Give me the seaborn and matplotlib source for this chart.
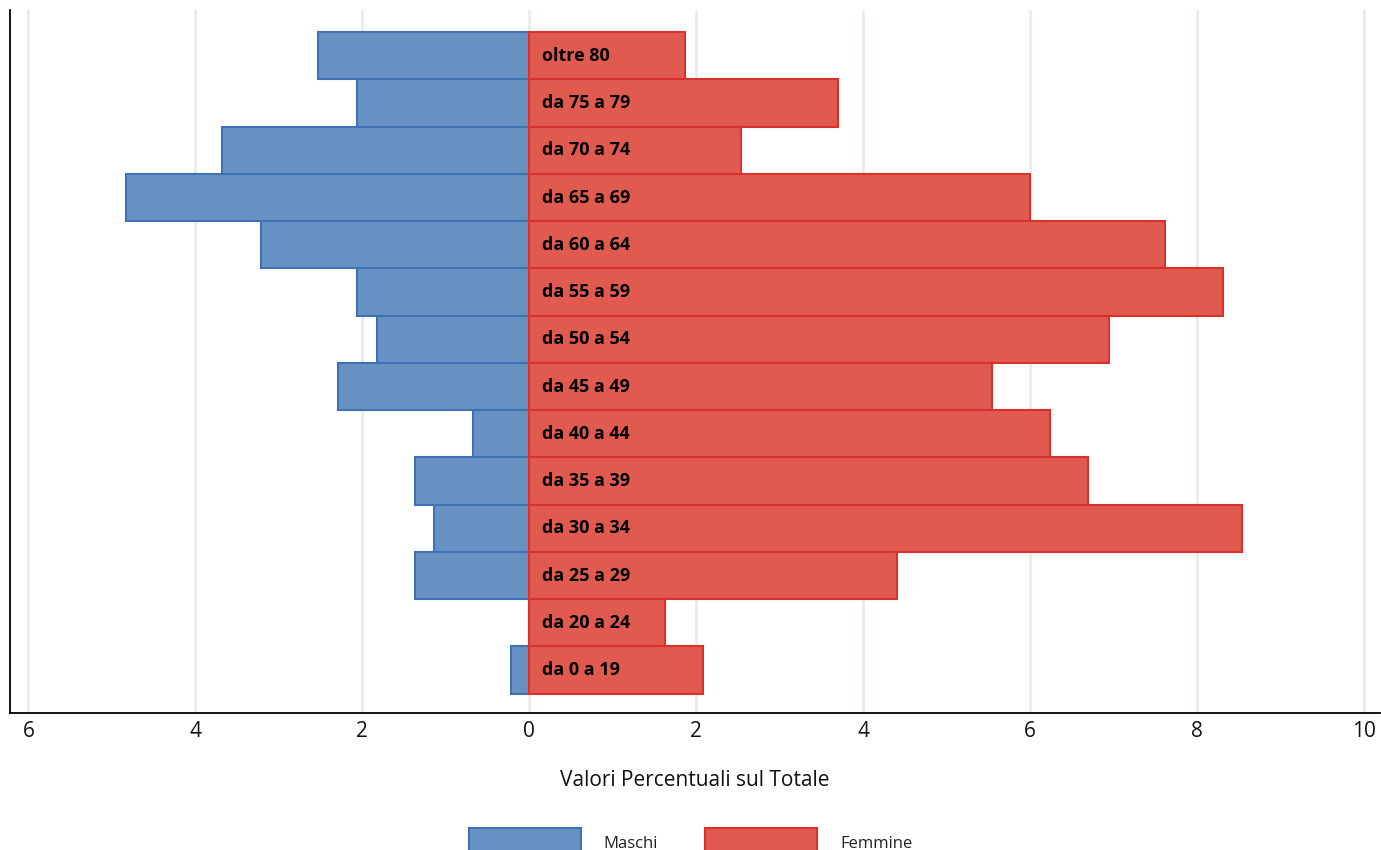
import matplotlib.pyplot as plt
import matplotlib.ticker as mticker
import numpy as np
import pandas as pd
import seaborn as sns

sns.set_theme(style="white")
plt.rcParams["font.family"] = ["Open Sans", "DejaVu Sans"]

age_groups = ["oltre 80", "da 75 a 79", "da 70 a 74", "da 65 a 69", "da 60 a 64",
              "da 55 a 59", "da 50 a 54", "da 45 a 49", "da 40 a 44", "da 35 a 39",
              "da 30 a 34", "da 25 a 29", "da 20 a 24", "da 0 a 19"]
maschi = [2.53, 2.06, 3.68, 4.83, 3.21, 2.06, 1.83, 2.29, 0.67, 1.37, 1.14, 1.37, 0.0, 0.22]
femmine = [1.86, 3.70, 2.54, 6.00, 7.62, 8.31, 6.94, 5.54, 6.24, 6.69, 8.54, 4.40, 1.62, 2.08]

df = pd.DataFrame({"eta": age_groups, "Maschi": -np.array(maschi), "Femmine": femmine})

fig = plt.figure(figsize=(13.81, 8.5), dpi=100)
ax = fig.add_axes([10 / 1381, 137 / 850, 1370 / 1381, 703 / 850])

sns.barplot(data=df, y="eta", x="Maschi", order=age_groups, color="#6891c3",
            saturation=1, width=1.0, edgecolor="#3f72b5", linewidth=1.5, ax=ax, label="Maschi")
sns.barplot(data=df, y="eta", x="Femmine", order=age_groups, color="#e05a50",
            saturation=1, width=1.0, edgecolor="#d9312b", linewidth=1.5, ax=ax, label="Femmine")

ax.set_xlim(-6.22, 10.19)
ax.set_ylim(len(age_groups) - 0.5 + 0.41, -0.5 - 0.47)
ax.set_xticks(np.arange(-6, 11, 2))
ax.xaxis.set_major_formatter(mticker.FuncFormatter(lambda v, p: f"{abs(v):.0f}"))
ax.tick_params(axis="x", labelsize=15, colors="#111111", pad=6, length=0)
ax.set_yticks([])
ax.set_ylabel("")
ax.set_xlabel("Valori Percentuali sul Totale", fontsize=15, labelpad=20, color="#111111")
ax.grid(axis="x", color="#e6eeee", linewidth=2)
ax.set_axisbelow(True)
for side in ["top", "right"]:
    ax.spines[side].set_visible(False)
for side in ["left", "bottom"]:
    ax.spines[side].set_color("black")
    ax.spines[side].set_linewidth(1.3)

for i, lab in enumerate(age_groups):
    ax.text(0.15, i, lab, va="center", ha="left", fontsize=13, fontweight="bold",
            color="black", family=["Open Sans", "DejaVu Sans"])

handles, labels = ax.get_legend_handles_labels()
ax.get_legend().remove()
fig.legend(handles, labels, loc="lower center", bbox_to_anchor=(0.5, -0.025), ncol=2,
           frameon=False, fontsize=12, handlelength=6.7, handleheight=2.2,
           handletextpad=1.4, columnspacing=2.8, labelcolor="#222222")

fig.savefig("out.png", dpi=100)
